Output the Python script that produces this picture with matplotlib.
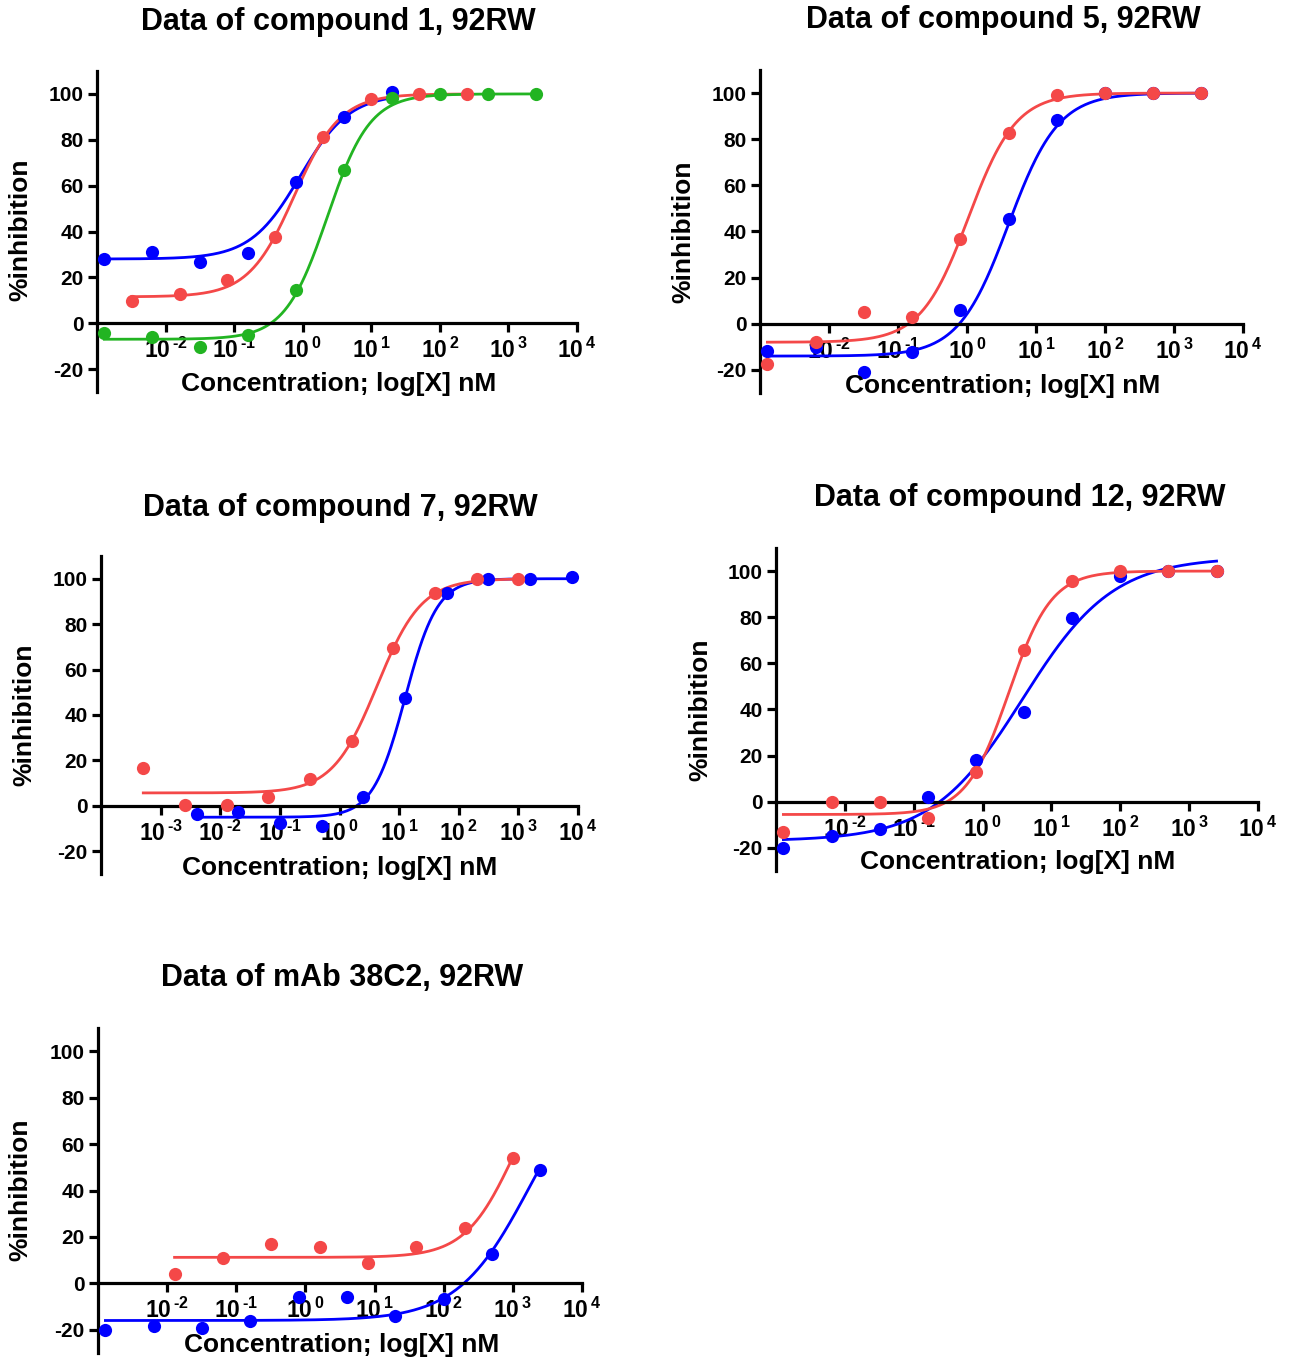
import matplotlib
matplotlib.use('Agg')
import matplotlib.pyplot as plt
import numpy as np

plt.rcParams['font.family'] = ['Liberation Sans', 'DejaVu Sans']
plt.rcParams['font.weight'] = 'bold'
plt.rcParams['mathtext.fontset'] = 'custom'
plt.rcParams['mathtext.rm'] = 'Liberation Sans:bold'
plt.rcParams['mathtext.default'] = 'rm'
plt.rcParams['axes.unicode_minus'] = False

W, H = 1295, 1365

BLUE = '#0000FF'
RED = '#F44848'
GREEN = '#22B422'

# 5-fold dilution series (nM)
conc_2500 = [2500, 500, 100, 20, 4, 0.8, 0.16, 0.032, 0.0064, 0.00128]

# compound 1
c1_blue_x = [20, 4, 0.8, 0.16, 0.032, 0.0064, 0.00128]
c1_blue_y = [100.7, 89.8, 61.7, 30.6, 26.6, 31, 27.8]
c1_red_x = [250, 50, 10, 2, 0.4, 0.08, 0.016, 0.0032]
c1_red_y = [100, 100, 98, 81, 37.6, 19, 12.7, 9.8]
c1_green_x = conc_2500
c1_green_y = [100, 100, 100, 98.2, 66.8, 14.5, -5.3, -10.2, -6, -4.1]

# compound 5
c5_blue_x = conc_2500
c5_blue_y = [100, 100, 100, 88.5, 45.5, 6, -12.4, -21, -10, -12]
c5_red_x = conc_2500
c5_red_y = [100, 100, 100, 99.3, 82.9, 36.7, 2.9, 4.9, -8.1, -17.3]

# compound 7
c7_blue_x = [7812.5, 1562.5, 312.5, 62.5, 12.5, 2.5, 0.5, 0.1, 0.02, 0.004]
c7_blue_y = [100.9, 100, 100, 93.5, 47.4, 3.7, -8.7, -7.6, -2.5, -3.5]
c7_red_x = [1000, 200, 40, 8, 1.6, 0.32, 0.064, 0.0128, 0.00256, 0.000512]
c7_red_y = [99.7, 99.7, 93.8, 69.4, 28.5, 11.8, 3.7, 0.4, 0.4, 16.5]

# compound 12
c12_blue_x = conc_2500
c12_blue_y = [100, 100, 97.8, 79.8, 39, 18, 2.2, -12, -14.9, -20]
c12_red_x = conc_2500
c12_red_y = [100, 100, 100, 95.7, 65.8, 13, -6.9, 0, 0, -13.2]

# mAb 38C2
mab_blue_x = conc_2500
mab_blue_y = [48.8, 12.6, -6.9, -14, -6, -6, -16.2, -19.4, -18.4, -20]
mab_red_x = [1000, 200, 40, 8, 1.6, 0.32, 0.064, 0.0128]
mab_red_y = [53.8, 23.7, 15.8, 8.6, 15.8, 16.8, 10.8, 3.9]

# fitted 4PL parameters: bottom, top, logEC50, hill slope
c1_blue_fit = [28, 100, -0.04, 1.2]
c1_red_fit = [11.5, 100, -0.12, 1.3]
c1_green_fit = [-7, 100, 0.36, 1.4]
c5_blue_fit = [-14, 100, 0.6, 1.2]
c5_red_fit = [-8, 100, 0.02, 1.26]
c7_blue_fit = [-5, 100, 1.1, 1.6]
c7_red_fit = [5.7, 100, 0.63, 1.16]
c12_blue_fit = [-17, 106, 0.58, 0.66]
c12_red_fit = [-5.5, 100, 0.38, 1.4]
mab_blue_fit = [-16, 100, 3.25, 0.83]
mab_red_fit = [11.2, 100, 3.02, 1.22]


def px_box(left, right, top, bottom):
    return [left / W, 1 - bottom / H, (right - left) / W, (bottom - top) / H]


def fig_text(fig, x, y, s, **kw):
    fig.text(x / W, 1 - y / H, s, ha='center', va='center', fontweight='bold', **kw)


def four_pl(fit, x):
    b, t, logec, h = fit
    return b + (t - b) / (1 + 10 ** ((logec - np.log10(x)) * h))


def exp_label(e):
    # hyphen instead of the wide math minus, as in the original
    if e < 0:
        return r'$10^{\,\text{-}%d}$' % (-e)
    return r'$10^{\,%d}$' % e


def draw_panel(fig, box, xmin_exp, series, title, title_xy, xlab_xy, ylab_xy):
    ax = fig.add_axes(px_box(*box))
    for xs, ys, fit, col in series:
        xx = np.logspace(np.log10(min(xs)), np.log10(max(xs)), 300)
        ax.plot(xx, four_pl(fit, xx), color=col, lw=2.0, zorder=2)
        ax.plot(xs, ys, 'o', color=col, ms=9.5, mec='none', zorder=3, clip_on=False)
    ax.set_xscale('log')
    ax.set_xlim(10.0 ** xmin_exp, 1e4)
    ax.set_ylim(-30, 110)
    ax.spines['top'].set_visible(False)
    ax.spines['right'].set_visible(False)
    ax.spines['bottom'].set_position(('data', 0))
    for sp in ['left', 'bottom']:
        ax.spines[sp].set_linewidth(2.3)
    exps = list(range(xmin_exp + 1, 5))
    ax.set_xticks([10.0 ** e for e in exps])
    ax.set_xticklabels([exp_label(e) for e in exps])
    ax.xaxis.set_minor_locator(matplotlib.ticker.NullLocator())
    ax.set_yticks([-20, 0, 20, 40, 60, 80, 100])
    ax.tick_params(axis='both', direction='out', length=6.5, width=2.3, pad=3)
    ax.tick_params(axis='y', labelsize=15)
    ax.tick_params(axis='x', labelsize=16.5, pad=4)
    for lab in ax.get_yticklabels():
        lab.set_fontweight('bold')
    fig_text(fig, title_xy[0], title_xy[1], title, fontsize=22)
    fig_text(fig, xlab_xy[0], xlab_xy[1], 'Concentration; log[X] nM', fontsize=19)
    fig_text(fig, ylab_xy[0], ylab_xy[1], '%inhibition', fontsize=19, rotation=90)
    return ax


fig = plt.figure(figsize=(W / 100, H / 100), dpi=100)

draw_panel(fig, (97, 577, 71, 392), -3,
           [(c1_blue_x, c1_blue_y, c1_blue_fit, BLUE),
            (c1_red_x, c1_red_y, c1_red_fit, RED),
            (c1_green_x, c1_green_y, c1_green_fit, GREEN)],
           'Data of compound 1, 92RW', (338, 22), (339, 384), (20, 230))

draw_panel(fig, (760, 1243, 70, 393), -3,
           [(c5_blue_x, c5_blue_y, c5_blue_fit, BLUE),
            (c5_red_x, c5_red_y, c5_red_fit, RED)],
           'Data of compound 5, 92RW', (1003, 20), (1003, 386), (683, 232))

draw_panel(fig, (101, 578, 556, 874), -4,
           [(c7_blue_x, c7_blue_y, c7_blue_fit, BLUE),
            (c7_red_x, c7_red_y, c7_red_fit, RED)],
           'Data of compound 7, 92RW', (340, 508), (340, 868), (24, 715))

draw_panel(fig, (776, 1258, 548, 871), -3,
           [(c12_blue_x, c12_blue_y, c12_blue_fit, BLUE),
            (c12_red_x, c12_red_y, c12_red_fit, RED)],
           'Data of compound 12, 92RW', (1020, 498), (1018, 862), (700, 710))

draw_panel(fig, (98, 582, 1028, 1353), -3,
           [(mab_blue_x, mab_blue_y, mab_blue_fit, BLUE),
            (mab_red_x, mab_red_y, mab_red_fit, RED)],
           'Data of mAb 38C2, 92RW', (342, 978), (342, 1345), (20, 1190))

fig.savefig('out.png', dpi=100)
